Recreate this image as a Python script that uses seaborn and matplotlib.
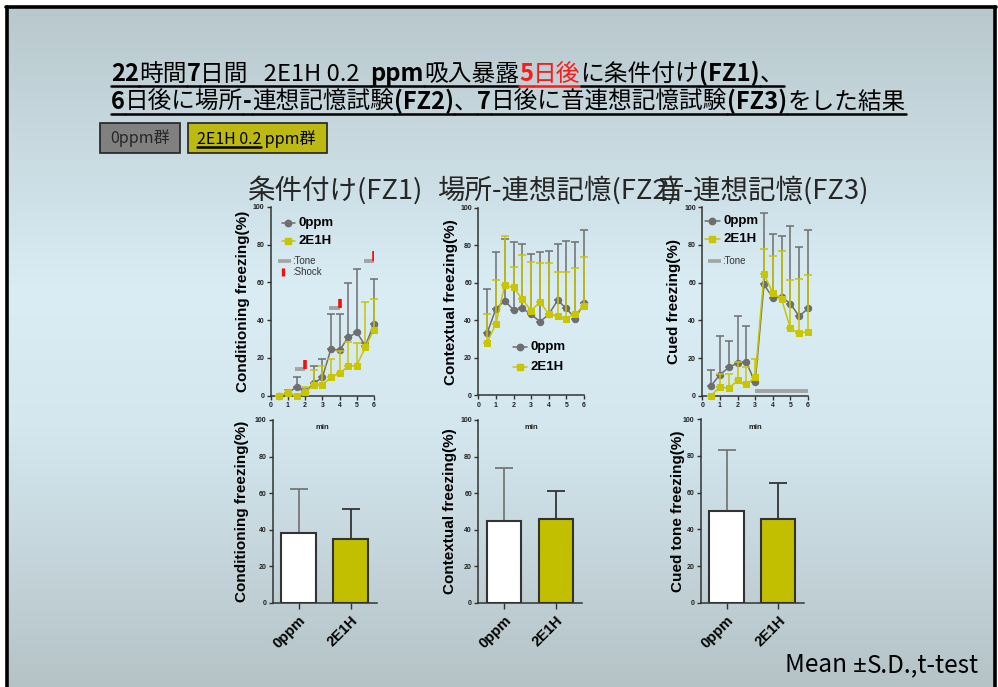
import numpy as np
import pandas as pd
import matplotlib
matplotlib.use("Agg")
import matplotlib.pyplot as plt
import seaborn as sns
from matplotlib.lines import Line2D
from matplotlib.patches import Rectangle
from matplotlib.colors import LinearSegmentedColormap

# ---------------- data ----------------
minutes = [0.5, 1.0, 1.5, 2.0, 2.5, 3.0, 3.5, 4.0, 4.5, 5.0, 5.5, 6.0]
groups = ["0ppm", "2E1H"]

# conditioning (FZ1), mean and S.D. per 30 s bin
cond_ctrl_mean = [0.0, 1.2, 4.8, 1.8, 6.5, 9.7, 24.8, 24.0, 31.0, 33.5, 26.5, 38.0]
cond_ctrl_sd = [0.0, 1.8, 5.2, 1.5, 9.0, 9.8, 18.7, 19.5, 28.5, 33.5, 1.5, 24.0]
cond_exp_mean = [0.0, 1.2, 0.0, 1.8, 5.7, 5.7, 9.7, 11.9, 15.6, 16.0, 25.8, 35.0]
cond_exp_sd = [0.0, 1.8, 0.0, 2.7, 7.8, 10.3, 9.8, 11.6, 12.9, 12.0, 23.7, 16.5]

# contextual test (FZ2)
ctx_ctrl_mean = [33.1, 46.3, 50.4, 45.6, 46.4, 43.2, 39.3, 43.2, 50.7, 46.4, 41.0, 49.1]
ctx_ctrl_sd = [23.7, 30.2, 33.2, 36.3, 34.6, 32.2, 37.2, 33.8, 30.3, 36.0, 41.0, 39.3]
ctx_exp_mean = [28.1, 38.3, 58.7, 57.7, 51.2, 45.2, 49.8, 43.4, 42.5, 41.0, 43.6, 47.5]
ctx_exp_sd = [15.5, 23.1, 26.3, 11.0, 23.5, 26.2, 20.7, 27.1, 23.3, 24.8, 24.4, 26.3]

# cued tone test (FZ3)
cue_ctrl_mean = [5.3, 11.2, 15.0, 17.3, 17.7, 7.1, 59.1, 51.9, 52.6, 48.8, 42.1, 46.4]
cue_ctrl_sd = [8.3, 20.7, 14.2, 24.8, 19.3, 3.9, 37.7, 34.1, 32.4, 41.5, 37.0, 41.6]
cue_exp_mean = [0.0, 4.8, 3.9, 8.1, 6.0, 9.7, 64.4, 54.7, 51.3, 35.8, 33.1, 34.0]
cue_exp_sd = [0.0, 6.7, 7.6, 9.9, 9.4, 9.6, 13.3, 19.5, 25.7, 25.4, 28.7, 30.2]

# tone / shock schedule during conditioning
tone_on = [1.4, 3.4, 5.4]
tone_off = [2.0, 4.0, 6.0]
tone_level = [14.0, 46.5, 71.5]
shock_at = [2.0, 4.0, 6.0]
cue_tone = [3.0, 6.0]

# whole-session summaries
bar_cond_mean = [38.0, 34.9]
bar_cond_sd = [24.0, 16.6]
bar_ctx_mean = [44.7, 46.0]
bar_ctx_sd = [29.2, 15.3]
bar_cue_mean = [50.2, 45.6]
bar_cue_sd = [33.1, 19.9]

# ---------------- style ----------------
sns.set_theme(style="ticks")
plt.rcParams["font.family"] = ["Liberation Sans", "Noto Sans CJK JP", "DejaVu Sans"]
JP = ["Noto Sans CJK JP", "DejaVu Sans"]
LAT = ["Noto Sans", "DejaVu Sans"]

GRAY = "#6e6e6e"
YEL = "#c9c500"
YEL_BAR = "#c2be00"
AXC = "#333333"
TONE = "#a3a3a3"
SHOCK = "#f01010"

W, H = 998, 687
fig = plt.figure(figsize=(W / 100, H / 100), dpi=100, facecolor="white")


def fx(px):
    return px / W


def fy(py):
    return 1 - py / H


def add_axes_px(left, bottom, right, top):
    return fig.add_axes([fx(left), fy(bottom), fx(right) - fx(left), fy(top) - fy(bottom)])


# ---------------- slide background ----------------
bg = add_axes_px(7, 687, 995, 7)
bg.set_zorder(-10)
cmap = LinearSegmentedColormap.from_list(
    "slide", [(0.0, "#b8c8cd"), (0.42, "#daedf5"), (0.62, "#d4e7ef"), (1.0, "#b5c3c7")])
grad = np.linspace(0, 1, 256).reshape(-1, 1)
bg.imshow(grad, aspect="auto", cmap=cmap, extent=[0, 1, 1, 0])
bg.axis("off")

renderer = fig.canvas.get_renderer()


def draw_runs(runs, x0, ybase, fs, underline=None, family=JP):
    """Draw text pieces one after the other; returns the end x in pixels."""
    x = x0
    for run in runs:
        s, bold = run[0], run[1]
        color = run[2] if len(run) > 2 else "black"
        fam = run[3] if len(run) > 3 else family
        t = fig.text(fx(x), fy(ybase), s, fontsize=fs, family=fam,
                     weight="bold" if bold else "normal", color=color,
                     va="baseline", ha="left")
        bb = t.get_window_extent(renderer)
        if underline is not None:
            fig.add_artist(Line2D([fx(x), fx(x + bb.width)], [fy(underline), fy(underline)],
                                  color=color, lw=1.8, transform=fig.transFigure))
        x += bb.width
    return x


title1 = [("22", True), ("時間", False), ("7", True), ("日間 ", False), ("  2E1H 0.2  ", False),
          ("ppm", True), ("吸入暴露", False), ("5", True, "#ff1a1a"), ("日後", False, "#ff1a1a"),
          ("に条件付け", False), ("(FZ1)", True), ("、", False)]
title2 = [("6", True), ("日後に場所", False), ("-", True), ("連想記憶試験", False), ("(FZ2)", True),
          ("、", False), ("7", True), ("日後に音連想記憶試験", False), ("(FZ3)", True),
          ("をした結果", False)]
draw_runs(title1, 111, 81, 17.1, underline=85.5)
draw_runs(title2, 111, 109, 17.0, underline=113.5)

# group key boxes
fig.patches.append(Rectangle((fx(100), fy(153)), fx(180) - fx(100), fy(123) - fy(153),
                             transform=fig.transFigure, facecolor="#808080",
                             edgecolor="#222222", lw=1.2))
fig.text(fx(140), fy(138.5), "0ppm群", family=JP, fontsize=11.5, ha="center", va="center")
fig.patches.append(Rectangle((fx(188), fy(153)), fx(327) - fx(188), fy(123) - fy(153),
                             transform=fig.transFigure, facecolor="#bcba12",
                             edgecolor="#222222", lw=1.2))
xe = draw_runs([("2E1H 0.2", False)], 197, 143.5, 11.5, underline=146.5)
draw_runs([(" ppm群", False)], xe, 143.5, 11.5)

# panel row headings
for s, x in [("条件付け(FZ1)", 248), ("場所-連想記憶(FZ2)", 437), ("音-連想記憶(FZ3)", 657)]:
    fig.text(fx(x), fy(199), s, family=JP, fontsize=19.8, va="baseline", ha="left")


# ---------------- panels ----------------
def style_axes(ax):
    sns.despine(ax=ax)
    for side in ("left", "bottom"):
        ax.spines[side].set_color(AXC)
        ax.spines[side].set_linewidth(1.1)
    ax.tick_params(axis="both", direction="out", length=3, width=1, color=AXC,
                   labelsize=5, pad=1.5, labelcolor="#222222")
    for lab in ax.get_yticklabels():
        lab.set_fontweight("bold")
    ax.set_facecolor("none")


def line_key(ax, x0, x1, y, color, marker, ms, label):
    ax.add_line(Line2D([x0, (x0 + x1) / 2, x1], [y, y, y], color=color, lw=1.1,
                       marker=marker, ms=ms, markevery=[1], mec=color, transform=ax.transAxes,
                       clip_on=False))
    ax.text(x1 + 0.03, y, label, transform=ax.transAxes, fontsize=9.5, weight="bold",
            va="center", ha="left", color="black")


def time_panel(ax, ctrl_m, ctrl_sd, exp_m, exp_sd, ylabel, ylab_x):
    for m, sd, col, mk, ms, z in [(ctrl_m, ctrl_sd, GRAY, "o", 4.6, 2),
                                  (exp_m, exp_sd, YEL, "s", 5.0, 4)]:
        ax.errorbar(minutes, m, yerr=[np.zeros(len(sd)), sd], fmt="none", ecolor=col,
                    elinewidth=1.1, capsize=2.6, capthick=1.1, zorder=z, clip_on=False)
        sns.lineplot(x=minutes, y=m, ax=ax, color=col, marker=mk, markersize=ms,
                     markeredgecolor=col, linewidth=1.1, zorder=z + 0.5, clip_on=False)
    ax.set_xlim(0, 6)
    ax.set_ylim(0, 100)
    ax.set_xticks(range(7))
    ax.set_yticks(range(0, 101, 20))
    style_axes(ax)
    for lab in ax.get_xticklabels():
        lab.set_fontweight("bold")
    ax.set_xlabel("")
    ax.set_ylabel(ylabel, fontsize=11, weight="bold", color="black")
    ax.yaxis.set_label_coords(ylab_x, 0.5)


def bar_panel(ax, means, sds, ylabel, ylab_x, min_x):
    df = pd.DataFrame({"group": groups, "freezing": means})
    sns.barplot(data=df, x="group", y="freezing", hue="group", palette=["white", YEL_BAR],
                saturation=1, edgecolor=AXC, linewidth=1.5, width=0.67, legend=False,
                ax=ax, zorder=3)
    for i, (m, sd, ec) in enumerate(zip(means, sds, ["#777777", "#333333"])):
        ax.errorbar([i], [m], yerr=[[0], [sd]], fmt="none", ecolor=ec, elinewidth=1.3,
                    capsize=6.5, capthick=1.3, zorder=2)
    ax.set_xlim(-0.5, 1.5)
    ax.set_ylim(0, 100)
    ax.set_yticks(range(0, 101, 20))
    style_axes(ax)
    ax.tick_params(axis="x", length=4, labelsize=10.5, pad=3.5, labelcolor="black")
    ax.set_xticks([0, 1])
    ax.set_xticklabels(groups, rotation=45, ha="right", rotation_mode="anchor",
                       fontweight="bold")
    ax.set_xlabel("")
    ax.set_ylabel(ylabel, fontsize=11, weight="bold", color="black")
    ax.yaxis.set_label_coords(ylab_x, 0.5)
    ax.text(min_x, 0.958, "min", transform=ax.transAxes, fontsize=5.5, weight="bold",
            ha="center", va="center", color="#222222")


# top row: time courses
ax1 = add_axes_px(270.7, 395.7, 374.0, 207.0)
time_panel(ax1, cond_ctrl_mean, cond_ctrl_sd, cond_exp_mean, cond_exp_sd,
           "Conditioning freezing(%)", -0.203)
for on, off, lvl, sh in zip(tone_on, tone_off, tone_level, shock_at):
    ax1.plot([on, off], [lvl, lvl], color=TONE, lw=2.8, solid_capstyle="butt", zorder=6)
    ax1.plot([sh, sh], [lvl, lvl + 5], color=SHOCK, lw=2.6, solid_capstyle="butt", zorder=7)
line_key(ax1, 0.106, 0.235, 0.915, GRAY, "o", 4.6, "0ppm")
line_key(ax1, 0.106, 0.235, 0.82, YEL, "s", 5.0, "2E1H")
ax1.plot([0.068, 0.197], [0.714, 0.714], color=TONE, lw=2.6, transform=ax1.transAxes,
         solid_capstyle="butt")
ax1.text(0.205, 0.714, ":Tone", transform=ax1.transAxes, fontsize=7, va="center",
         color="#333333")
ax1.plot([0.116, 0.116], [0.632, 0.676], color=SHOCK, lw=2.4, transform=ax1.transAxes,
         solid_capstyle="butt")
ax1.text(0.205, 0.654, ":Shock", transform=ax1.transAxes, fontsize=7, va="center",
         color="#333333")

ax2 = add_axes_px(478.3, 395.3, 584.0, 208.0)
time_panel(ax2, ctx_ctrl_mean, ctx_ctrl_sd, ctx_exp_mean, ctx_exp_sd,
           "Contextual freezing(%)", -0.192)
line_key(ax2, 0.33, 0.46, 0.258, GRAY, "o", 4.6, "0ppm")
line_key(ax2, 0.33, 0.46, 0.153, YEL, "s", 5.0, "2E1H")

ax3 = add_axes_px(702.3, 395.7, 808.0, 207.3)
time_panel(ax3, cue_ctrl_mean, cue_ctrl_sd, cue_exp_mean, cue_exp_sd,
           "Cued freezing(%)", -0.2015)
ax3.plot(cue_tone, [2.3, 2.3], color=TONE, lw=2.8, solid_capstyle="butt", zorder=6)
line_key(ax3, 0.025, 0.167, 0.929, GRAY, "o", 4.6, "0ppm")
line_key(ax3, 0.025, 0.167, 0.832, YEL, "s", 5.0, "2E1H")
ax3.plot([0.05, 0.177], [0.715, 0.715], color=TONE, lw=2.6, transform=ax3.transAxes,
         solid_capstyle="butt")
ax3.text(0.19, 0.715, ":Tone", transform=ax3.transAxes, fontsize=7, va="center",
         color="#333333")

# bottom row: session means
bx1 = add_axes_px(272.7, 602.7, 376.7, 420.0)
bar_panel(bx1, bar_cond_mean, bar_cond_sd, "Conditioning freezing(%)", -0.228, 0.48)
bx2 = add_axes_px(478.3, 602.7, 581.7, 420.0)
bar_panel(bx2, bar_ctx_mean, bar_ctx_sd, "Contextual freezing(%)", -0.206, 0.516)
bx3 = add_axes_px(700.7, 602.7, 804.0, 419.3)
bar_panel(bx3, bar_cue_mean, bar_cue_sd, "Cued tone freezing(%)", -0.155, 0.526)

# footnote
draw_runs([("Mean ", False), ("±", False, "black", LAT), ("S.D.,t-test", False)],
          785, 672, 17.5)

# slide frame
fig.patches.append(Rectangle((fx(995), 0), 1 - fx(995), 1, transform=fig.transFigure,
                             facecolor="white", edgecolor="none", zorder=20))
for xs, ys in [([7, 7], [7, 687]), ([6, 996], [7, 7]), ([994.5, 994.5], [7, 687])]:
    fig.add_artist(Line2D([fx(v) for v in xs], [fy(v) for v in ys], color="black",
                          lw=2.6, transform=fig.transFigure, zorder=21))

fig.savefig("out.png", dpi=100, facecolor="white")
